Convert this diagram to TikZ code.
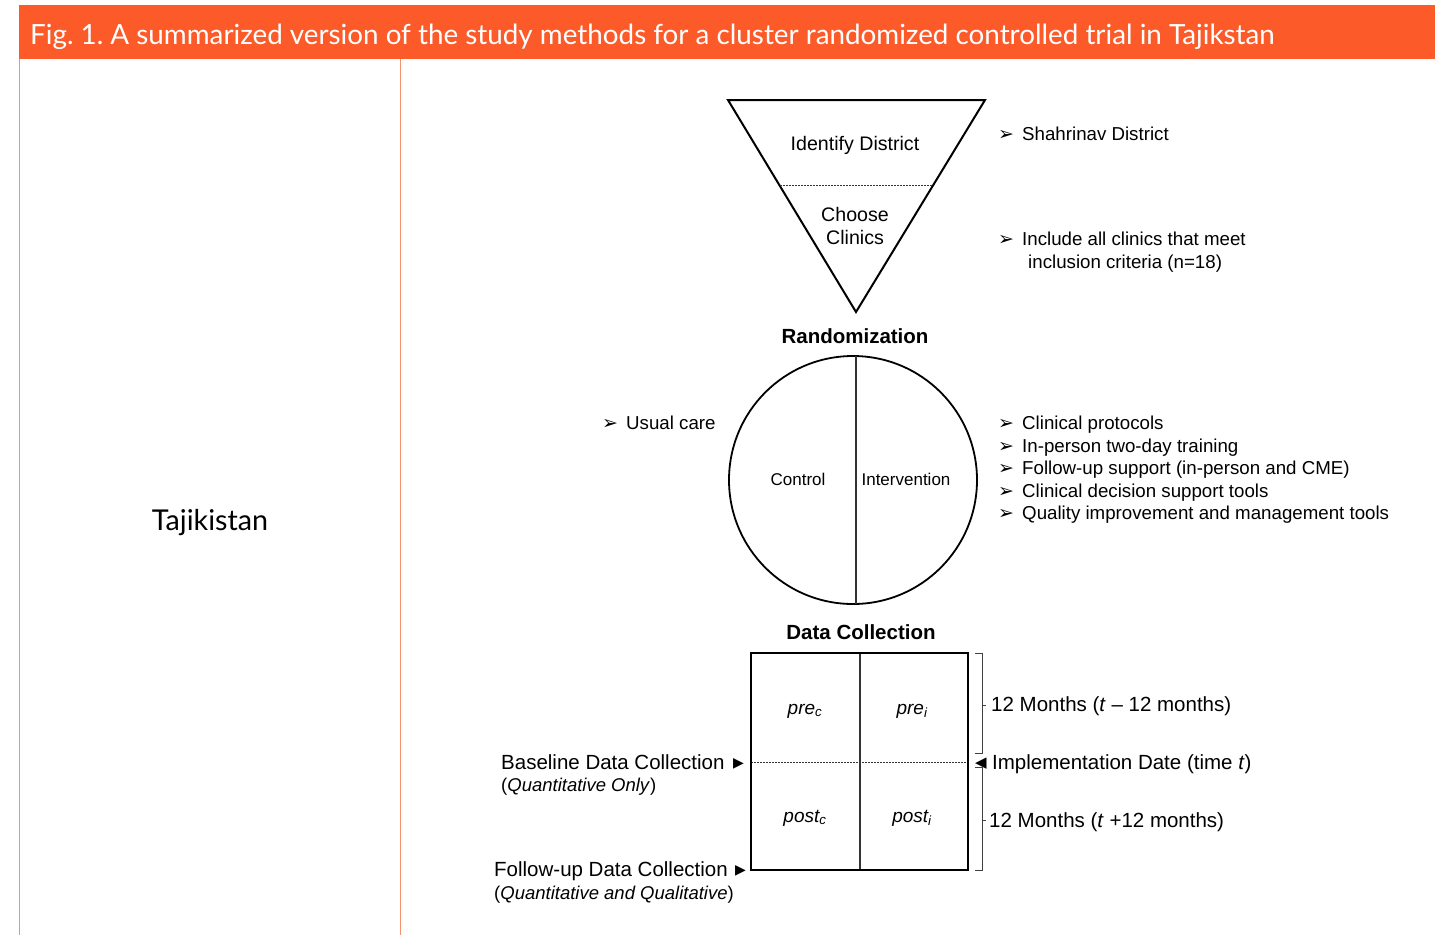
\documentclass[tikz,border=0pt]{standalone}
\usepackage{fontspec}
\setmainfont{Liberation Sans}
\newfontfamily\titlefont{Lato}
\newfontfamily\symfont{DejaVu Sans}
\definecolor{hdr}{HTML}{FC5A28}
\definecolor{rulec}{HTML}{F4916F}
\newcommand{\bul}{\makebox[24pt][l]{\symfont\fontsize{19}{19}\selectfont ➢}}
\newcommand{\rtri}{{\symfont\fontsize{14}{14}\selectfont ▶}}
\newcommand{\ltri}{{\symfont\fontsize{15}{15}\selectfont ◀}}
\frenchspacing
\begin{document}
\begin{tikzpicture}[x=1pt,y=-1pt,
  txt/.style={font=\fontsize{18.7}{22}\selectfont, inner sep=0pt, anchor=base west},
  btxt/.style={font=\fontsize{20.5}{24}\selectfont, inner sep=0pt, anchor=base west},
  itxt/.style={font=\fontsize{18.5}{22}\selectfont, inner sep=0pt, anchor=base west},
  ctxt/.style={font=\fontsize{19.6}{23}\selectfont, inner sep=0pt, anchor=base},
  small/.style={font=\fontsize{17}{20}\selectfont, inner sep=0pt, anchor=base},
  bold/.style={font=\bfseries\fontsize{20.5}{24}\selectfont, inner sep=0pt, anchor=base},
  cell/.style={font=\itshape\fontsize{19}{22}\selectfont, inner sep=0pt, anchor=base},
  thick line/.style={line width=2pt, black},
  thin line/.style={line width=1.1pt, black!80},
  brk/.style={line width=0.9pt, black!75}]
\useasboundingbox (0,0) rectangle (1435,935);
\fill[white] (0,0) rectangle (1435,935);
% header
\fill[hdr] (19,5) rectangle (1435,59);
\node[font=\titlefont\fontsize{27.8}{32}\selectfont, text=white, inner sep=0pt, anchor=base west] (title) at (30,44) {Fig. 1. A summarized version of the study methods for a cluster randomized controlled trial in Tajikstan};
\draw[rulec, line width=0.8pt] (19.5,59) -- (19.5,935);
\draw[rulec, line width=0.8pt] (400.5,59) -- (400.5,935);
\node[font=\titlefont\fontsize{28.7}{32}\selectfont, inner sep=0pt, anchor=base] (country) at (210,530) {Tajikistan};

% triangle
\coordinate (tl) at (728,100);
\coordinate (tr) at (985,100);
\coordinate (tb) at (856,312);
\draw[thick line, line join=miter] (tl) -- (tr) -- (tb) -- cycle;
\coordinate (dl) at (780,185);
\coordinate (dr) at (933,185);
\draw[black!80, line width=0.9pt, dash pattern=on 2pt off 1pt] (dl) -- (dr);
\node[ctxt] (ident) at (855,150) {Identify District};
\node[ctxt] (choose1) at (855,221) {Choose};
\node[ctxt] (choose2) at (855,244) {Clinics};
\node[txt] (b1) at (998,140) {\bul Shahrinav District};
\node[txt] (b2) at (998,245) {\bul Include all clinics that meet};
\node[txt] (b2b) at (1028,268) {inclusion criteria (n=18)};

% randomization
\node[bold] (rand) at (855,343) {Randomization};
\node[circle, draw, line width=1.8pt, minimum size=248pt, inner sep=0pt] (circ) at (853,480) {};
\draw[thin line] (856,356) -- (856,604);
\node[small] (ctrl) at (798,485) {Control};
\node[small] (intv) at (906,485) {Intervention};
\node[txt] (usual) at (602,429) {\bul Usual care};
\foreach \yy/\tt in {429/Clinical protocols, 452/In-person two-day training, 474/Follow-up support (in-person and CME), 497/Clinical decision support tools, 519/Quality improvement and management tools}{
  \node[txt] at (998,\yy) {\bul \tt};
}

% data collection
\node[bold] (dc) at (861,639) {Data Collection};
\draw[line width=0.9pt, black!80, dash pattern=on 2pt off 1pt] (751,762.5) -- (968,762.5);
\draw[thin line] (860,653) -- (860,870);
\node[draw, line width=2.5pt, minimum width=217pt, minimum height=217pt, inner sep=0pt] (box) at (859.5,761.5) {};
\node[cell] (prec) at (805,714) {pre\textsubscript{c}};
\node[cell] (prei) at (912,714) {pre\textsubscript{i}};
\node[cell] (postc) at (805,822) {post\textsubscript{c}};
\node[cell] (posti) at (912,822) {post\textsubscript{i}};

% left labels
\node[btxt] (base1) at (501,769) {Baseline Data Collection};
\node[inner sep=0pt, anchor=base west] (arr1) at (733,767) {\rtri};
\node[itxt] (base2) at (501,791) {(\textit{Quantitative Only})};
\node[btxt] (fol1) at (494,876) {Follow-up Data Collection};
\node[inner sep=0pt, anchor=base west] (arr2) at (735,874) {\rtri};
\node[itxt] (fol2) at (494,899) {(\textit{Quantitative and Qualitative})};

% brackets
\draw[brk] (975,653.5) -- (982,653.5) -- (982,753) -- (975,753);
\draw[brk] (982,705) -- (986,705);
\draw[brk] (975,767) -- (982,767) -- (982,870) -- (975,870);
\draw[brk] (982,820) -- (986,820);
\node[btxt] (m1) at (991,711) {12 Months (\textit{t} -- 12 months)};
\node[inner sep=0pt, anchor=base west] (arr3) at (975,767.5) {\ltri};
\node[btxt] (impl) at (992,769) {Implementation Date (time \textit{t})};
\node[btxt] (m2) at (989,827) {12 Months (\textit{t} +12 months)};
\end{tikzpicture}
\end{document}
